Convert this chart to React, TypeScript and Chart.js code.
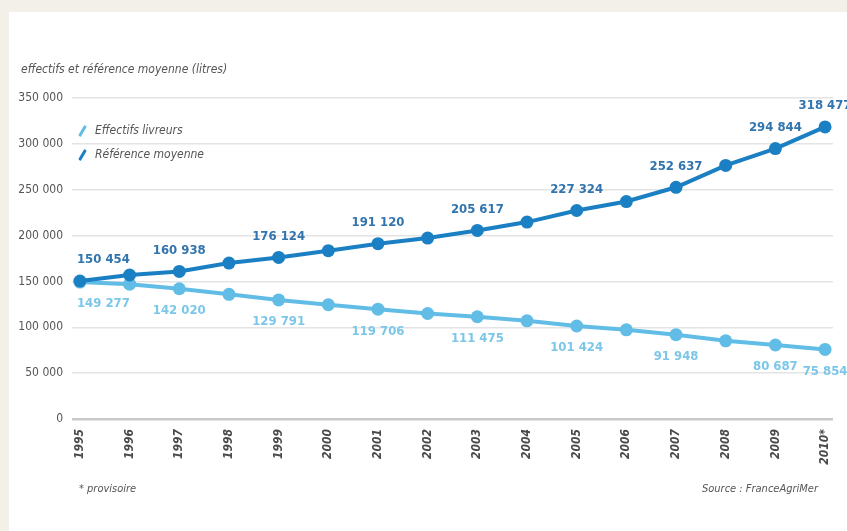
import React, { useEffect, useRef } from "react";
import { Chart, registerables } from "chart.js";

Chart.register(...registerables);

const years = [1995, 1996, 1997, 1998, 1999, 2000, 2001, 2002, 2003, 2004, 2005, 2006, 2007, 2008, 2009, 2010];
const yearLabels = ["1995", "1996", "1997", "1998", "1999", "2000", "2001", "2002", "2003", "2004", "2005", "2006", "2007", "2008", "2009", "2010*"];
const effectifsLivreurs = [149277, 147000, 142020, 135900, 129791, 124600, 119706, 115000, 111475, 107000, 101424, 97200, 91948, 85200, 80687, 75854];
const referenceMoyenne = [150454, 157000, 160938, 170000, 176124, 183500, 191120, 197300, 205617, 214700, 227324, 237100, 252637, 276500, 294844, 318477];
const labeledIndices = [0, 2, 4, 6, 8, 10, 12, 14, 15];
const yTicks = [0, 50000, 100000, 150000, 200000, 250000, 300000, 350000];

const DARK = "#1b80c3";
const LIGHT = "#62bde6";
const DARK_LABEL = "#3274ad";
const LIGHT_LABEL = "#7cc6e8";
const FONT = "'Liberation Sans Narrow', 'DejaVu Sans Condensed', 'Open Sans', sans-serif";

const fmt = (v: number) => {
  const s = Math.round(v).toString();
  return s.replace(/\B(?=(\d{3})+(?!\d))/g, " ");
};

const labelPlugin = {
  id: "valueLabels",
  afterDatasetsDraw(chart: any) {
    const ctx = chart.ctx;
    ctx.save();
    ctx.font = `bold 13px ${FONT}`;
    ctx.textBaseline = "middle";
    chart.data.datasets.forEach((ds: any, di: number) => {
      const meta = chart.getDatasetMeta(di);
      const above = ds.labelAbove;
      ctx.fillStyle = ds.labelColor;
      labeledIndices.forEach((i) => {
        const pt = meta.data[i];
        if (!pt) return;
        let x = pt.x;
        if (i === 0) {
          ctx.textAlign = "left";
          x = pt.x - 3;
        } else {
          ctx.textAlign = "center";
        }
        const y = above ? pt.y - 21 : pt.y + 22;
        ctx.fillText(fmt(ds.data[i].y), x, y);
      });
    });
    ctx.restore();
  },
};

export default function App() {
  const ref = useRef<HTMLCanvasElement | null>(null);

  useEffect(() => {
    document.body.style.margin = "0";
    document.body.style.background = "#f3f0ea";
    const canvas = ref.current;
    if (!canvas) return;
    const chart = new Chart(canvas, {
      type: "line",
      data: {
        datasets: [
          {
            label: "Référence moyenne",
            data: years.map((y, i) => ({ x: y, y: referenceMoyenne[i] })),
            borderColor: DARK,
            backgroundColor: DARK,
            pointBackgroundColor: DARK,
            pointBorderColor: DARK,
            borderWidth: 4,
            pointRadius: 6.5,
            pointBorderWidth: 0,
            tension: 0,
            labelColor: DARK_LABEL,
            labelAbove: true,
          } as any,
          {
            label: "Effectifs livreurs",
            data: years.map((y, i) => ({ x: y, y: effectifsLivreurs[i] })),
            borderColor: LIGHT,
            backgroundColor: LIGHT,
            pointBackgroundColor: LIGHT,
            pointBorderColor: LIGHT,
            borderWidth: 4,
            pointRadius: 6.5,
            pointBorderWidth: 0,
            tension: 0,
            labelColor: LIGHT_LABEL,
            labelAbove: false,
          } as any,
        ],
      },
      options: {
        responsive: false,
        animation: false,
        layout: { padding: { top: 98, right: 14, left: 0, bottom: 0 } },
        plugins: {
          legend: { display: false },
          tooltip: { enabled: false },
          title: { display: false },
        },
        scales: {
          x: {
            type: "linear",
            min: 1994.84,
            max: 2010.16,
            afterBuildTicks: (scale: any) => {
              scale.ticks = years.map((v) => ({ value: v }));
            },
            afterFit: (scale: any) => {
              scale.height = 112;
            },
            grid: { display: false },
            border: { display: false },
            ticks: {
              autoSkip: false,
              minRotation: 90,
              maxRotation: 90,
              padding: 2,
              color: "#4a4a4a",
              font: { family: FONT, size: 12, style: "italic", weight: "bold" },
              callback: (v: any) => {
                const idx = years.indexOf(Number(v));
                return idx >= 0 ? yearLabels[idx] : "";
              },
            },
          },
          y: {
            type: "linear",
            min: 0,
            max: 350000,
            afterBuildTicks: (scale: any) => {
              scale.ticks = yTicks.map((v) => ({ value: v }));
            },
            afterFit: (scale: any) => {
              scale.width = 72;
            },
            border: { display: false },
            grid: {
              drawTicks: false,
              color: (c: any) => (c.tick && c.tick.value === 0 ? "#c9c9c9" : "#e4e4e4"),
              lineWidth: (c: any) => (c.tick && c.tick.value === 0 ? 2.5 : 1.5),
            },
            ticks: {
              padding: 9,
              color: "#555",
              font: { family: FONT, size: 12 },
              callback: (v: any) => fmt(Number(v)),
            },
          },
        },
      },
      plugins: [labelPlugin],
    });
    return () => chart.destroy();
  }, []);

  const textStyle: React.CSSProperties = {
    position: "absolute",
    fontFamily: FONT,
    fontStyle: "italic",
    color: "#555",
    whiteSpace: "nowrap",
  };

  return (
    <div style={{ position: "relative", width: 847, height: 531, background: "#f3f0ea", overflow: "hidden" }}>
      <div style={{ position: "absolute", left: 9, top: 12, width: 838, height: 519, background: "#ffffff" }} />
      <canvas ref={ref} width={847} height={531} style={{ position: "absolute", left: 0, top: 0 }} />
      <div style={{ ...textStyle, left: 21, top: 62, fontSize: 12 }}>effectifs et référence moyenne (litres)</div>
      <div style={{ position: "absolute", left: 81, top: 125, width: 3, height: 12, background: LIGHT, transform: "rotate(30deg)", borderRadius: 1 }} />
      <div style={{ ...textStyle, left: 95, top: 123, fontSize: 12 }}>Effectifs livreurs</div>
      <div style={{ position: "absolute", left: 81, top: 149, width: 3, height: 12, background: DARK, transform: "rotate(30deg)", borderRadius: 1 }} />
      <div style={{ ...textStyle, left: 95, top: 147, fontSize: 12 }}>Référence moyenne</div>
      <div style={{ ...textStyle, left: 79, top: 482, fontSize: 11 }}>* provisoire</div>
      <div style={{ ...textStyle, right: 29, top: 482, fontSize: 11 }}>Source : FranceAgriMer</div>
    </div>
  );
}
